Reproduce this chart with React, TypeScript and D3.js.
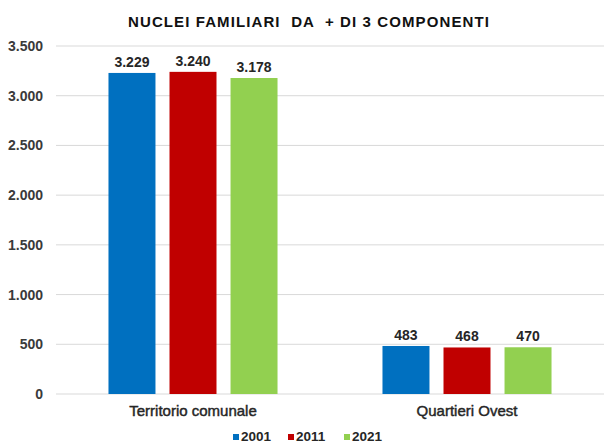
import { useEffect, useRef } from 'react';
import * as d3 from 'd3';

const categories = ['Territorio comunale', 'Quartieri Ovest'];
const years = ['2001', '2011', '2021'];
const values2001 = [3229, 483];
const values2011 = [3240, 468];
const values2021 = [3178, 470];
const yTicks = [0, 500, 1000, 1500, 2000, 2500, 3000, 3500];
const colors = ['#0070c0', '#c00000', '#92d050'];

const series = [values2001, values2011, values2021];

const fmt = (v: number) => d3.format(',')(v).replace(/,/g, '.');

export default function App() {
  const svgRef = useRef<SVGSVGElement>(null);

  useEffect(() => {
    if (!svgRef.current) return;
    const svg = d3.select(svgRef.current);
    svg.selectAll('*').remove();

    const font = "'Liberation Sans', Arial, sans-serif";
    const left = 56;
    const right = 604;
    const top = 46;
    const bottom = 394;

    const y = d3.scaleLinear().domain([0, 3500]).range([bottom, top]);
    const x0 = d3.scaleBand().domain(categories).range([left, right]).padding(0);
    const x1 = d3
      .scaleBand()
      .domain(years)
      .range([0, x0.bandwidth()])
      .paddingInner(0.23)
      .paddingOuter(0.86);

    // title
    svg
      .append('text')
      .attr('x', 309)
      .attr('y', 27)
      .attr('text-anchor', 'middle')
      .attr('font-family', font)
      .attr('font-size', 15)
      .attr('font-weight', 'bold')
      .attr('letter-spacing', 1.1)
      .attr('fill', '#111')
      .style('white-space', 'pre')
      .text('NUCLEI FAMILIARI  DA  + DI 3 COMPONENTI');

    // grid
    svg
      .append('g')
      .selectAll('line')
      .data(yTicks)
      .join('line')
      .attr('x1', left)
      .attr('x2', right)
      .attr('y1', (d) => y(d))
      .attr('y2', (d) => y(d))
      .attr('stroke', '#d9d9d9')
      .attr('stroke-width', 1);

    // y labels
    svg
      .append('g')
      .selectAll('text')
      .data(yTicks)
      .join('text')
      .attr('x', 43)
      .attr('y', (d) => y(d) + 5)
      .attr('text-anchor', 'end')
      .attr('font-family', font)
      .attr('font-size', 14)
      .attr('font-weight', 'bold')
      .attr('fill', '#3a3a3a')
      .text((d) => fmt(d));

    // bars
    const groups = svg
      .append('g')
      .selectAll('g')
      .data(categories)
      .join('g')
      .attr('transform', (c) => `translate(${x0(c)},0)`);

    groups.each(function (c, ci) {
      const g = d3.select(this);
      const rows = years.map((yr, si) => ({ yr, si, v: series[si][ci] }));
      g.selectAll('rect')
        .data(rows)
        .join('rect')
        .attr('x', (d) => x1(d.yr)!)
        .attr('width', x1.bandwidth())
        .attr('y', (d) => y(d.v))
        .attr('height', (d) => bottom - y(d.v))
        .attr('fill', (d) => colors[d.si]);
      g.selectAll('text')
        .data(rows)
        .join('text')
        .attr('x', (d) => x1(d.yr)! + x1.bandwidth() / 2)
        .attr('y', (d) => y(d.v) - 6)
        .attr('text-anchor', 'middle')
        .attr('font-family', font)
        .attr('font-size', 14)
        .attr('font-weight', 'bold')
        .attr('fill', '#262626')
        .text((d) => fmt(d.v));
    });

    // x labels
    svg
      .append('g')
      .selectAll('text')
      .data(categories)
      .join('text')
      .attr('x', (c) => x0(c)! + x0.bandwidth() / 2)
      .attr('y', 416)
      .attr('text-anchor', 'middle')
      .attr('font-family', font)
      .attr('font-size', 15)
      .attr('fill', '#262626')
      .attr('stroke', '#262626')
      .attr('stroke-width', 0.45)
      .text((c) => c);

    // legend
    const legendX = [233, 288, 344];
    const leg = svg
      .append('g')
      .selectAll('g')
      .data(years)
      .join('g')
      .attr('transform', (_, i) => `translate(${legendX[i]},441)`);
    leg
      .append('rect')
      .attr('x', 0)
      .attr('y', -7)
      .attr('width', 6)
      .attr('height', 6)
      .attr('fill', (_, i) => colors[i]);
    leg
      .append('text')
      .attr('x', 8)
      .attr('y', 0)
      .attr('font-family', font)
      .attr('font-size', 13.5)
      .attr('font-weight', 'bold')
      .attr('fill', '#262626')
      .text((d) => d);
  }, []);

  return (
    <svg
      ref={svgRef}
      width={606}
      height={444}
      style={{ position: 'absolute', left: 0, top: 0, background: '#fff' }}
    />
  );
}
